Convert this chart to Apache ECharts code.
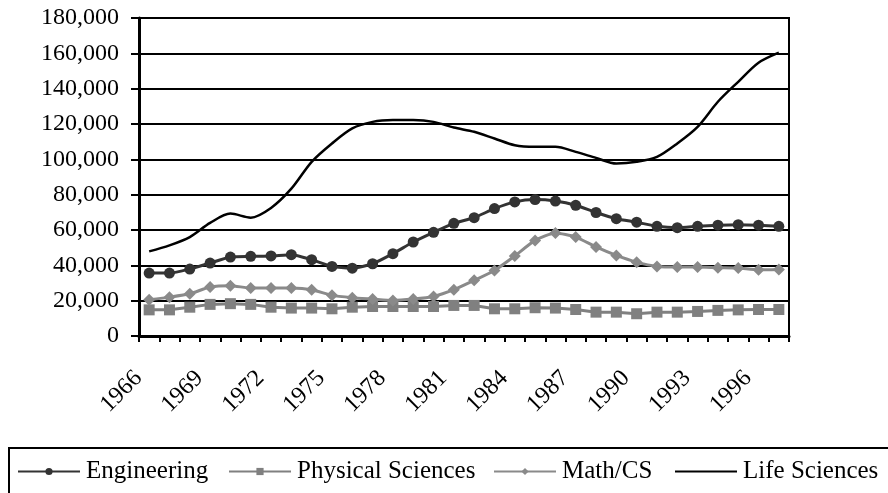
<!DOCTYPE html>
<html>
<head>
<meta charset="utf-8">
<title>Degrees by field</title>
<script src="https://cdn.jsdelivr.net/npm/echarts@6/dist/echarts.min.js"></script>
<style>
	html, body { margin: 0; padding: 0; background: #fff; }
	#degreeChart { width: 888px; height: 493px; }
</style>
</head>
<body>
<div id="degreeChart"></div>
<script>
var years = ['1966','1967','1968','1969','1970','1971','1972','1973','1974','1975','1976',
	'1977','1978','1979','1980','1981','1982','1983','1984','1985','1986','1987',
	'1988','1989','1990','1991','1992','1993','1994','1995','1996','1997'];

var engineering = [35600,35600,37900,41300,44700,45100,45300,46000,43200,39400,38400,
	40900,46600,53200,58700,63800,67000,72100,75900,77200,76400,74000,
	69900,66400,64400,62100,61300,62100,62700,63000,62700,62100];

var physicalSciences = [14800,14800,16300,17900,18300,17900,16300,15800,15800,15400,16300,
	16700,16700,16700,16700,17300,17300,15400,15400,16000,15800,15000,
	13500,13500,12600,13500,13500,13900,14500,14800,15000,15000];

var mathCS = [20500,22000,23900,27700,28500,27100,27100,27100,26200,23000,21700,
	20900,20100,20900,22400,26200,31500,37100,45300,54100,58300,56000,
	50400,45600,41800,39400,39000,39000,38700,38500,37500,37700];

var lifeSciences = [47900,51300,56000,64000,69300,67000,72500,83400,98600,109000,117500,
	121200,122200,122200,121200,118000,115600,111800,108000,107100,107100,104200,
	100800,97600,98600,101400,109000,118400,132600,143900,154700,160400];

var FONT = 'Liberation Serif';

function legendItem(name, left, hideSymbol){
	var lg = {
		data : [name],
		left : left,
		top : 459,
		itemWidth : 62,
		itemHeight : 9,
		itemGap : 0,
		padding : 0,
		textStyle : { fontFamily : FONT, fontSize : 25, color : '#000', padding : [0, 0, 0, 1] }
	};
	if (hideSymbol) {
		lg.itemStyle = { color : 'rgba(0,0,0,0)', borderWidth : 0 };
	}
	return lg;
}

function drawChart(){
	var myChart = echarts.init(document.getElementById('degreeChart'));

	var option = {
		animation : false,
		backgroundColor : '#fff',
		grid : {
			left : 139,
			right : 99,
			top : 18,
			bottom : 157,
			show : true,
			borderColor : '#000',
			borderWidth : 2,
			containLabel : false
		},
		graphic : [{
			type : 'rect',
			shape : { x : 9, y : 448, width : 900, height : 60 },
			style : { fill : 'none', stroke : '#000', lineWidth : 2 },
			silent : true
		}],
		legend : [
			legendItem('Engineering', 17),
			legendItem('Physical Sciences', 228),
			legendItem('Math/CS', 493),
			legendItem('Life Sciences', 674, true)
		],
		xAxis : {
			type : 'category',
			data : years,
			boundaryGap : true,
			axisLine : { lineStyle : { color : '#000', width : 3 } },
			axisTick : { show : true, interval : 0, length : 6, lineStyle : { color : '#000', width : 2 } },
			axisLabel : {
				interval : 2,
				rotate : 45,
				margin : 28,
				padding : [0, 15, 0, 0],
				fontFamily : FONT,
				fontSize : 24,
				color : '#000'
			},
			splitLine : { show : false }
		},
		yAxis : {
			type : 'value',
			min : 0,
			max : 180000,
			interval : 20000,
			axisLine : { show : true, lineStyle : { color : '#000', width : 3 } },
			axisTick : { show : true, length : 8, lineStyle : { color : '#000', width : 2 } },
			axisLabel : {
				margin : 20,
				fontFamily : FONT,
				fontSize : 24,
				color : '#000',
				formatter : function(v){ return v.toLocaleString('en-US'); }
			},
			splitLine : { show : true, lineStyle : { color : '#000', width : 2 } }
		},
		series : [{
			name : 'Engineering',
			type : 'line',
			data : engineering,
			smooth : 0.2,
			symbol : 'circle',
			symbolSize : 11,
			itemStyle : { color : '#333333' },
			lineStyle : { color : '#333333', width : 3 }
		}, {
			name : 'Physical Sciences',
			type : 'line',
			data : physicalSciences,
			symbol : 'rect',
			symbolSize : 11,
			itemStyle : { color : '#808080' },
			lineStyle : { color : '#808080', width : 3 }
		}, {
			name : 'Math/CS',
			type : 'line',
			data : mathCS,
			smooth : 0.2,
			symbol : 'diamond',
			symbolSize : 12,
			itemStyle : { color : '#8a8a8a' },
			lineStyle : { color : '#8a8a8a', width : 3 }
		}, {
			name : 'Life Sciences',
			type : 'line',
			data : lifeSciences,
			smooth : 0.3,
			symbol : 'none',
			itemStyle : { color : '#000' },
			lineStyle : { color : '#000', width : 2.5 }
		}]
	};

	myChart.setOption(option);
}

drawChart();
</script>
</body>
</html>
